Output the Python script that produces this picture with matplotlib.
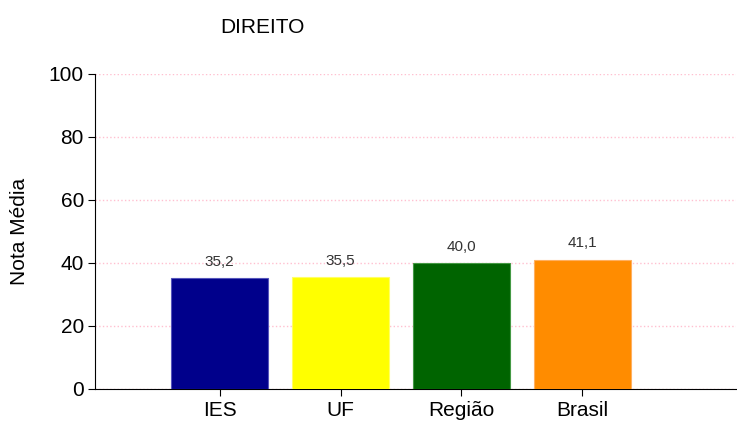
import matplotlib
matplotlib.use("Agg")
import matplotlib.pyplot as plt
import numpy as np

categorias = ["IES", "UF", "Região", "Brasil"]
notas = [35.2, 35.5, 40.0, 41.1]
rotulos = ["35,2", "35,5", "40,0", "41,1"]
cores = ["#00008B", "#FFFF00", "#006400", "#FF8C00"]
bordas = ["#5555BB", "#FFFF66", "#449944", "#FFB060"]

plt.rcParams["font.family"] = ["Liberation Sans", "DejaVu Sans"]

fig = plt.figure(figsize=(7.37, 4.23), dpi=100)
ax = fig.add_axes([0.1289, 0.0804, 0.8697, 0.7447])

x = np.arange(len(categorias))
ax.bar(x, notas, 0.8, color=cores, edgecolor=bordas, linewidth=0.8, zorder=3)

for i in range(len(x)):
    ax.text(x[i], notas[i] + 3, rotulos[i], ha="center", va="bottom",
            fontsize=11, color="#333333")

ax.set_xlim(-1.03, 4.27)
ax.set_ylim(0, 100)
ax.set_yticks([0, 20, 40, 60, 80, 100])
ax.set_xticks(x)
ax.set_xticklabels(categorias, fontsize=15)
ax.tick_params(axis="y", labelsize=15, direction="out", length=5, pad=3)
ax.tick_params(axis="x", direction="out", length=5, pad=4)

ax.yaxis.grid(True, color="#FFC0D0", linestyle=":", linewidth=1)
ax.set_axisbelow(True)
for s in ["top", "right"]:
    ax.spines[s].set_visible(False)

ax.set_ylabel("Nota Média", fontsize=15, labelpad=14)
fig.text(0.2985, 0.936, "DIREITO", fontsize=15, va="center")

fig.savefig("out.png", dpi=100)
